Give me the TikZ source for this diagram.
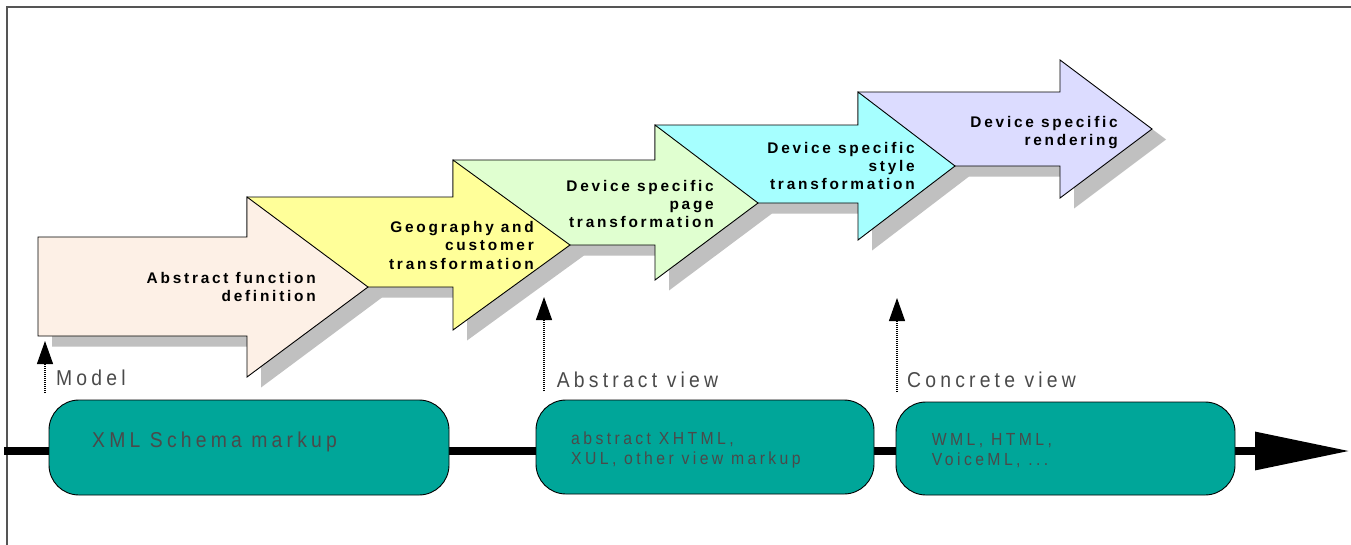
\documentclass[tikz,border=0pt]{standalone}
\usepackage{fontspec}
\usetikzlibrary{arrows.meta}
\newfontfamily\arrowfont{Liberation Sans}[LetterSpace=18]
\newfontfamily\lblfont{Liberation Sans}[LetterSpace=19.5,FakeStretch=0.9]
\definecolor{cpink}{HTML}{FDF0E6}
\definecolor{cyellow}{HTML}{FFFF99}
\definecolor{cgreen}{HTML}{E0FFD0}
\definecolor{ccyan}{HTML}{A6FFFF}
\definecolor{clav}{HTML}{DCDCFF}
\definecolor{cshadow}{HTML}{C0C0C0}
\definecolor{cteal}{HTML}{00A699}
\definecolor{ctext}{HTML}{4A4A4A}
\definecolor{cframe}{HTML}{555555}
\begin{document}
\begin{tikzpicture}[x=1pt,y=-1pt,
  arrowshape/.style={draw=black, line width=0.9pt, line join=miter},
  shadowshape/.style={fill=cshadow, draw=none},
  arrowtext/.style={font=\arrowfont\bfseries\fontsize{15.4}{18.3}\selectfont, align=right, inner sep=0pt, anchor=north east, text=black},
  lbltext/.style={font=\lblfont\fontsize{21.5}{24}\selectfont, inner sep=0pt, anchor=base west, text=ctext},
  boxtext/.style={font=\lblfont\fontsize{17.5}{20.5}\selectfont, align=left, inner sep=0pt, anchor=north west, text=ctext},
  tealbox/.style={draw=black, line width=0.9pt, fill=cteal, rounded corners=30pt, inner sep=0pt},
  dotarrow/.style={line width=1.1pt, dash pattern=on 1pt off 1pt, -{Triangle[length=23pt,width=16pt]}},
  frameline/.style={draw=cframe, line width=2pt}
]
\useasboundingbox (0,0) rectangle (1351,544);
\fill[white] (0,0) rectangle (1351,544);

% frame
\coordinate (fra) at (7,546);
\coordinate (frb) at (7,7);
\coordinate (frc) at (1353,7);
\draw[frameline] (fra) -- (frb) -- (frc);

% shadows
\begin{scope}[shift={(14,10.5)}]
\fill[shadowshape] (858,92) -- (1060,92) -- (1060,60) -- (1152,129) -- (1060,198) -- (1060,166) -- (858,166) -- cycle;
\fill[shadowshape] (655,125) -- (858,125) -- (858,92) -- (955,166) -- (858,240) -- (858,203) -- (655,203) -- cycle;
\fill[shadowshape] (453,160) -- (655,160) -- (655,125) -- (758,203) -- (655,280) -- (655,245) -- (453,245) -- cycle;
\fill[shadowshape] (247,197) -- (453,197) -- (453,160) -- (570,245) -- (453,330) -- (453,287) -- (247,287) -- cycle;
\fill[shadowshape] (38,237) -- (247,237) -- (247,197) -- (368,287) -- (247,377) -- (247,336) -- (38,336) -- cycle;
\end{scope}

% arrows (right to left so that left ones are in front)
\filldraw[arrowshape, fill=clav] (858,92) -- (1060,92) -- (1060,60) -- (1152,129) -- (1060,198) -- (1060,166) -- (858,166) -- cycle;
\filldraw[arrowshape, fill=ccyan] (655,125) -- (858,125) -- (858,92) -- (955,166) -- (858,240) -- (858,203) -- (655,203) -- cycle;
\filldraw[arrowshape, fill=cgreen] (453,160) -- (655,160) -- (655,125) -- (758,203) -- (655,280) -- (655,245) -- (453,245) -- cycle;
\filldraw[arrowshape, fill=cyellow] (247,197) -- (453,197) -- (453,160) -- (570,245) -- (453,330) -- (453,287) -- (247,287) -- cycle;
\filldraw[arrowshape, fill=cpink] (38,237) -- (247,237) -- (247,197) -- (368,287) -- (247,377) -- (247,336) -- (38,336) -- cycle;

% arrow texts
\node[arrowtext] (t1) at (316,272.2) {Abstract function\\definition};
\node[arrowtext] (t2) at (534,221.2) {Geography and\\customer\\transformation};
\node[arrowtext] (t3) at (714,180) {Device specific\\page\\transformation};
\node[arrowtext] (t4) at (915,142) {Device specific\\style\\transformation};
\node[arrowtext] (t5) at (1118,116) {Device specific\\rendering};

% axis
\coordinate (axL) at (4,451);
\coordinate (axR) at (1350,451);
\draw[line width=8pt, -{Triangle[length=95pt,width=36.5pt]}] (axL) -- (axR);

% teal boxes
\node[tealbox, minimum width=400pt, minimum height=95pt] (b1) at (249,447.5) {};
\node[tealbox, minimum width=338pt, minimum height=94pt] (b2) at (705,447) {};
\node[tealbox, minimum width=339pt, minimum height=93pt] (b3) at (1065.5,448.5) {};

\node[lbltext] (bt1) at (92,447.3) {XML Schema markup};
\node[boxtext] (bt2) at (571,431.2) {abstract XHTML,\\XUL, other view markup};
\node[boxtext] (bt3) at (931.7,432.8) {WML, HTML,\\VoiceML, ...};

% labels
\node[lbltext] (lm) at (56,385.7) {Model};
\node[lbltext] (la) at (556.7,387.7) {Abstract view};
\node[lbltext] (lc) at (907,387.3) {Concrete view};

% dotted arrows
\coordinate (d1a) at (45,393);
\coordinate (d1b) at (45,341);
\coordinate (d2a) at (544,391);
\coordinate (d2b) at (544,297);
\coordinate (d3a) at (897,392);
\coordinate (d3b) at (897,298);
\draw[dotarrow] (d1a) -- (d1b);
\draw[dotarrow] (d2a) -- (d2b);
\draw[dotarrow] (d3a) -- (d3b);
\end{tikzpicture}
\end{document}
